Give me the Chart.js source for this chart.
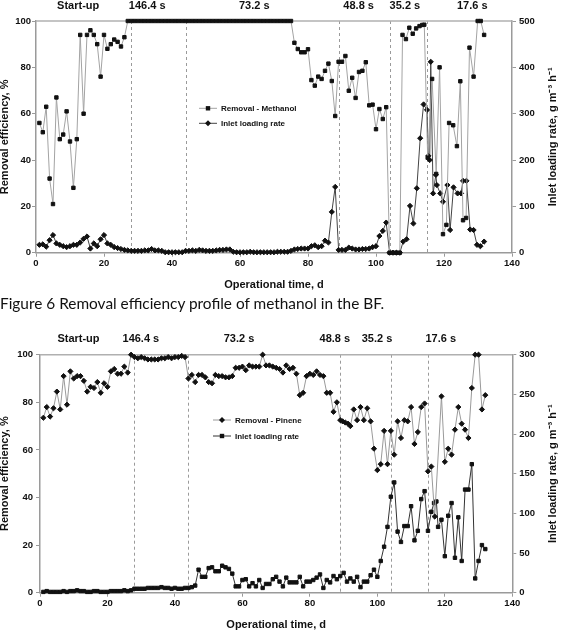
<!DOCTYPE html>
<html>
<head>
<meta charset="utf-8">
<script src="https://cdn.jsdelivr.net/npm/chart.js@4.4.1/dist/chart.umd.min.js"></script>
<style>
    body { margin: 0; background: #fff; }
    #page { position: relative; width: 567px; height: 642px; overflow: hidden; }
    #chart_one { position: absolute; left: 0; top: 0; }
    #chart_two { position: absolute; left: 0; top: 326px; }
    #caption {
        position: absolute; left: 0; top: 296px; margin: 0;
        font: 15.4px Lato, "Open Sans", sans-serif; line-height: 15px; color: #111;
        white-space: nowrap;
    }
</style>
</head>
<body>
<div id="page">
    <canvas id="chart_one" width="567" height="296"></canvas>
    <p id="caption">Figure 6 Removal efficiency profile of methanol in the BF.</p>
    <canvas id="chart_two" width="567" height="316"></canvas>
</div>
<script>
// ---- Figure 6: methanol ----
const methanol_days = [1,2,3,4,5,6,7,8,9,10,11,12,13,14,15,16,17,18,19,20,21,22,23,24,25,26,
    27,28,29,30,31,32,33,34,35,36,37,38,39,40,41,42,43,44,45,46,47,48,49,50,
    51,52,53,54,55,56,57,58,59,60,61,62,63,64,65,66,67,68,69,70,71,72,73,74,75,
    76,77,78,79,80,81,82,83,84,85,86,87,88,89,90,91,92,93,94,95,96,97,98,99,100,
    101,102,103,104,105,106,107,107.8,108.8,109.8,110.8,111.8,112.8,113.6,114.2,115.2,
    116.5,117.7,118.7,119.7,120.7,121.5,122.7,123.8,124.8,125.6,126.5,127.5,128.7,129.9,130.8,131.8];
const methanol_removal = [56,52,63,32,21,67,49,51,61,48,28,49,94,60,94,96,94,90,76,94,88,90,92,91,89,93,
    100,100,100,100,100,100,100,100,100,100,100,100,100,100,100,100,100,100,100,100,100,100,100,100,
    100,100,100,100,100,100,100,100,100,100,100,100,100,100,100,100,100,100,100,100,100,100,100,100,100,
    90.6,87.9,86.5,86.5,87.8,74.5,72.1,76,75,78.5,81.6,74.1,59,82.4,82.4,84.9,69.9,75.5,66.8,78,78.5,82.2,63.6,63.9,53.3,
    62,57.7,62.8,0,0,0,0,94,92.2,97.1,94.5,96.8,97.8,98.3,98.4,41,
    75,34,80,8,12,56,55,46,74,14,15,88.5,76,100,100,94];

const inlet_one_days = [1,2,3,4,5,6,7,8,9,10,11,12,13,14,15,16,17,18,19,20,21,22,23,24,25,
    26,27,28,29,30,31,32,33,34,35,36,37,38,39,40,41,42,43,44,45,46,47,48,49,50,
    51,52,53,54,55,56,57,58,59,60,61,62,63,64,65,66,67,68,69,70,71,72,73,74,75,
    76,77,78,79,80,81,82,83,84,85,86,87,88,89,90,91,92,93,94,95,96,97,98,99,100,
    101,102,103,104,105,106,107,108,109,110,111,112,113,114,115,
    115.4,115.8,116.1,116.8,117.6,117.9,118.9,119.7,121,121.8,122.8,124,125,125.6,126.6,127.7,128.7,129.7,130.7,131.8];
const inlet_one_load = [17,18,13,27,38,20,17,14,12,14,17,17,22,30,35,9,20,14,29,38,20,17,12,10,8,
    6,5,4,4,4,4,5,5,8,5,5,4,1,1,1,1,1,1,4,4,5,4,6,5,4,
    4,4,5,6,6,7,7,2,1,1,1,1,2,1,1,1,1,1,1,1,2,2,2,2,4,
    7,8,9,9,9,14,16,12,14,26,22,88,142,6,6,6,11,9,7,7,8,8,9,12,14,
    36,47,65,0,0,0,0,24,29,101,63,139,247,320,308,
    209,200,412,128,168,146,128,110,146,49,141,128,128,155,155,50,49,17,14,24];

// ---- second chart: pinene ----
const pinene_days = [1,2,3,4,5,6,7,8,9,10,11,12,13,14,15,16,17,18,19,20,21,22,23,24,25,
    26,27,28,29,30,31,32,33,34,35,36,37,38,39,40,41,42,43,44,45,46,47,48,49,50,
    51,52,53,54,55,56,57,58,59,60,61,62,63,64,65,66,67,68,69,70,71,72,73,74,75,
    76,77,78,79,80,81,82,83,84,85,86,87,88,89,89.7,90.5,91.3,92,93,94,95,96,97,98,99,100,
    101,102,103,104,105,106,107,108,109,110,111,112,113,114,115,116,117,119,120,
    121,122,123,124,125,126,127,128,129,130,131,132];
const pinene_removal = [73.5,78,74,77.5,84.5,77,91,79,93,90,91,91,89,84.5,86.5,86,88.5,84,88,86.5,93,94,92,92,95,
    92.5,100,99,98.5,99,98.5,98,98,98,98,98.5,98.5,99,98.5,99,99,99.5,99,90,91.5,88.5,91.5,91.5,90.5,88.5,
    88,91.5,91,91,90.5,90.5,91,94.5,94.5,95,93.5,95.5,95,95,95,100,95.5,95.5,95,94.5,94,92.5,95.5,94,94.5,
    92,83,84,91,92,91.5,93,91.5,91,84,84,76,80,72.5,72,71.5,71,70,77,72.5,78,72.5,77.5,72,60.5,51.5,
    54,68,54,68,58,72,65,72.5,72,78,62.5,67.5,78,79.5,51,53,32,82.5,55,
    60.5,58,68.5,78,71,68.5,65,86,100,100,77,83];

const inlet_two_days = [1,2,3,4,5,6,7,8,9,10,11,12,13,14,15,16,17,18,19,20,21,22,23,24,25,
    26,27,28,29,30,31,32,33,34,35,36,37,38,39,40,41,42,43,44,45,46,47,48,49,50,
    51,52,53,54,55,56,57,58,59,60,61,62,63,64,65,66,67,68,69,70,71,72,73,74,75,
    76,77,78,79,80,81,82,83,84,85,86,87,88,89,90,91,92,93,94,95,96,97,98,99,100,
    101,102,103,104,105,106,107,108,109,110,111,112,113,114,115,116,116.8,117.5,118,119,120,
    121,122,123,124,125,126,127,128,129,130,131,132];
const inlet_two_load = [1,2,1,1,1,1,2,1,2,2,3,2,2,1,1,2,2,1,1,1,2,2,2,2,3,
    2,3,5,5,5,5,6,6,6,6,7,6,6,5,6,5,5,6,6,7,9,29,20,20,31,
    32,27,27,34,32,30,24,8,8,16,17,8,12,8,16,6,11,11,17,20,14,8,19,13,13,
    13,20,8,14,14,16,19,23,6,16,13,21,17,21,25,14,18,14,20,7,14,14,22,29,20,
    40,58,83,121,139,77,64,84,84,109,66,78,118,128,78,102,113,115,83,92,46,
    97,113,44,95,40,130,130,162,18,40,60,55];

// operating phases (empty bed residence time) shown above each plot
const phase_labels = ["Start-up", "146.4 s", "73.2 s", "48.8 s", "35.2 s", "17.6 s"];
const phase_centres_one = [12.4, 32.7, 64.2, 94.9, 108.5, 128.3];
const phase_centres_two = [11.4, 29.9, 59, 87.4, 99.9, 118.8];
const phase_changes = [28, 44, 89, 104, 115];

const FONT = '"Liberation Sans", Arial, sans-serif';

/**
 * @function to_points
 * @description zips a day array and a value array into {x, y} points
 **/
function to_points(days, values) {
    return days.map((d, i) => ({ x: d, y: values[i] }));
}

/**
 * @function draw_marker
 * @description small square or diamond used in the in-plot legend
 **/
function draw_marker(ctx, style, x, y) {
    ctx.beginPath();
    if (style === 'rect') {
        ctx.rect(x - 2.2, y - 2.2, 4.4, 4.4);
    } else {
        ctx.moveTo(x, y - 3); ctx.lineTo(x + 3, y); ctx.lineTo(x, y + 3); ctx.lineTo(x - 3, y);
        ctx.closePath();
    }
    ctx.fill();
}

// draws the frame top, phase change lines, phase labels, legend and axis titles
const decor_plugin = {
    id: 'decor',
    beforeDatasetsDraw(chart, args, opts) {
        const { ctx, chartArea: area, scales } = chart;
        ctx.save();
        ctx.strokeStyle = '#9a9a9a';
        ctx.lineWidth = 1;
        ctx.setLineDash([3, 3]);
        phase_changes.forEach(day => {
            const x = Math.round(scales.x.getPixelForValue(day)) + 0.5;
            ctx.beginPath();
            ctx.moveTo(x, area.top);
            ctx.lineTo(x, area.bottom);
            ctx.stroke();
        });
        ctx.setLineDash([]);
        ctx.strokeStyle = '#b0b0b0';
        ctx.lineWidth = 1.5;
        ctx.beginPath();
        ctx.moveTo(area.left, area.top);
        ctx.lineTo(area.right, area.top);
        ctx.stroke();
        ctx.restore();
    },
    afterDraw(chart, args, opts) {
        const { ctx, chartArea: area, scales } = chart;
        ctx.save();
        ctx.fillStyle = '#111';
        ctx.textBaseline = 'middle';

        // phase labels
        ctx.font = 'bold 11px ' + FONT;
        ctx.textAlign = 'center';
        phase_labels.forEach((txt, i) => {
            ctx.fillText(txt, scales.x.getPixelForValue(opts.phaseCentres[i]), opts.phaseY);
        });

        // legend
        ctx.font = 'bold 8px ' + FONT;
        ctx.textAlign = 'left';
        chart.data.datasets.forEach((ds, i) => {
            const y = opts.legendY + i * opts.legendGap;
            ctx.strokeStyle = ds.borderColor;
            ctx.lineWidth = 1;
            ctx.beginPath();
            ctx.moveTo(opts.legendX, y);
            ctx.lineTo(opts.legendX + 18, y);
            ctx.stroke();
            ctx.fillStyle = '#111';
            draw_marker(ctx, ds.pointStyle, opts.legendX + 9, y);
            ctx.fillText(ds.label, opts.legendX + 22, y + 0.5);
        });

        // axis titles
        ctx.font = 'bold 11px ' + FONT;
        ctx.textAlign = 'center';
        ctx.fillText('Operational time, d', (area.left + area.right) / 2, opts.xTitleY);
        const mid = (area.top + area.bottom) / 2;
        [[opts.leftTitleX, 'Removal efficiency, %'],
         [opts.rightTitleX, 'Inlet loading rate, g m\u207B\u00B3 h\u207B\u00B9']].forEach(([x, txt]) => {
            ctx.save();
            ctx.translate(x, mid);
            ctx.rotate(-Math.PI / 2);
            ctx.fillText(txt, 0, 0);
            ctx.restore();
        });
        ctx.restore();
    }
};

/**
 * @function make_chart
 * @description builds one dual axis line chart of removal efficiency and inlet load
 **/
function make_chart(canvas_id, removal, inlet, geo) {
    const tick_font = { family: FONT, size: 9.5, weight: 'bold' };
    const edge = { display: true, color: '#9a9a9a', width: 1.5 };
    const tick_grid = { drawOnChartArea: false, drawTicks: true, tickLength: 4, color: '#9a9a9a' };

    const config = {
        type: 'line',
        data: { datasets: [removal, inlet] },
        options: {
            responsive: false,
            animation: false,
            devicePixelRatio: 1,
            layout: { padding: { top: geo.top, left: 0, right: 0, bottom: 0 } },
            plugins: {
                legend: { display: false },
                tooltip: { enabled: false },
                decor: geo.decor
            },
            elements: { line: { tension: 0, borderWidth: 1 } },
            scales: {
                x: {
                    type: 'linear', min: 0, max: 140,
                    ticks: { stepSize: 20, font: tick_font, color: '#111', padding: 1, maxRotation: 0 },
                    grid: tick_grid, border: edge,
                    afterFit: s => { s.height = geo.xHeight; }
                },
                y: {
                    position: 'left', min: 0, max: 100,
                    ticks: { stepSize: 20, font: tick_font, color: '#111', padding: geo.leftPad },
                    grid: tick_grid, border: edge,
                    afterFit: s => { s.width = geo.leftWidth; }
                },
                y1: {
                    position: 'right', min: 0, max: geo.rightMax,
                    ticks: { stepSize: geo.rightStep, font: tick_font, color: '#111', padding: 3 },
                    grid: tick_grid, border: edge,
                    afterFit: s => { s.width = geo.rightWidth; }
                }
            }
        },
        plugins: [decor_plugin]
    };
    const ctx = document.getElementById(canvas_id).getContext('2d');
    return new Chart(ctx, config);
}

make_chart('chart_one',
    {
        label: 'Removal - Methanol', data: to_points(methanol_days, methanol_removal), yAxisID: 'y',
        borderColor: '#a3a3a3', pointStyle: 'rect', pointRadius: 2.4, pointBorderWidth: 1,
        pointBackgroundColor: '#111', pointBorderColor: '#111', clip: false
    },
    {
        label: 'Inlet loading rate', data: to_points(inlet_one_days, inlet_one_load), yAxisID: 'y1',
        borderColor: '#444', pointStyle: 'rectRot', pointRadius: 2.6, pointBorderWidth: 1,
        pointBackgroundColor: '#111', pointBorderColor: '#111', clip: false
    },
    {
        top: 21, xHeight: 43.3, leftWidth: 36, rightWidth: 55, leftPad: 1,
        rightMax: 500, rightStep: 100,
        decor: { phaseCentres: phase_centres_one, phaseY: 5.5, legendX: 199, legendY: 108.3, legendGap: 15,
                 xTitleY: 285, leftTitleX: 4.5, rightTitleX: 553 }
    });

make_chart('chart_two',
    {
        label: 'Removal - Pinene', data: to_points(pinene_days, pinene_removal), yAxisID: 'y',
        borderColor: '#9a9a9a', pointStyle: 'rectRot', pointRadius: 2.6, pointBorderWidth: 1,
        pointBackgroundColor: '#111', pointBorderColor: '#111', clip: false
    },
    {
        label: 'Inlet loading rate', data: to_points(inlet_two_days, inlet_two_load), yAxisID: 'y1',
        borderColor: '#333', pointStyle: 'rect', pointRadius: 2.4, pointBorderWidth: 1,
        pointBackgroundColor: '#111', pointBorderColor: '#111', clip: false
    },
    {
        top: 28.7, xHeight: 49.3, leftWidth: 40, rightWidth: 54.7, leftPad: 3,
        rightMax: 300, rightStep: 50,
        decor: { phaseCentres: phase_centres_two, phaseY: 12.5, legendX: 213, legendY: 94, legendGap: 16,
                 xTitleY: 299, leftTitleX: 4.5, rightTitleX: 553 }
    });
</script>
</body>
</html>
